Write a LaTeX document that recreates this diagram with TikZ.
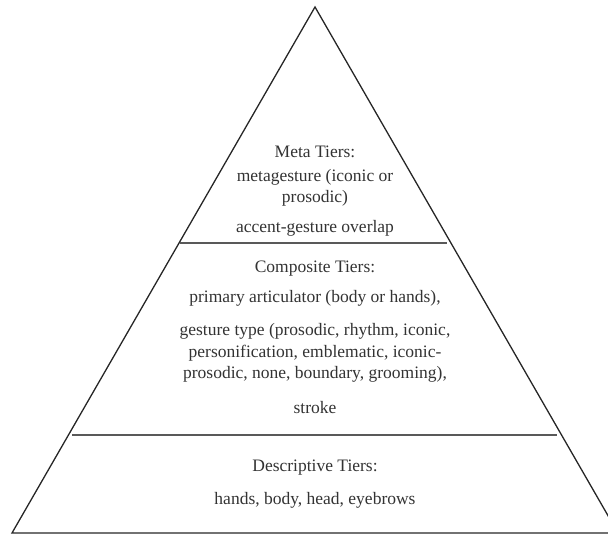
\documentclass[tikz,border=0pt]{standalone}
\usepackage{fontspec}
\setmainfont{Liberation Serif}
\usepackage{tikz}
\usetikzlibrary{positioning}
\usetikzlibrary{calc}
\definecolor{rulegray}{rgb}{0.35,0.35,0.35}

\begin{document}
\begin{tikzpicture}[
            x = 1pt, y = -1pt, % picture measured in points, y downwards
            edge line/.style = {draw = black!85, line width = 1.3pt},
            tier line/.style = {draw = rulegray, line width = 1.8pt},
            semithick
        ]

        \tikzstyle{tier}=[
            align = center,
            inner sep = 0pt,
            font = \fontsize{17.5}{21.5}\selectfont,
            text = black!80
        ]

        \clip (0,0) rectangle (608,535);

	% outline of the pyramid
        \coordinate (apex) at (315,7);
        \coordinate (BL) at (12,533);
        \coordinate (BR) at (618,533);
        \draw[edge line] (apex) -- (BL) -- (BR) -- cycle;

        % dividing lines
        \coordinate (M1) at (180,243);
        \coordinate (M2) at (447,243);
        \coordinate (C1) at (72,435);
        \coordinate (C2) at (557,435);
        \draw[tier line] (M1) -- (M2);
        \draw[tier line] (C1) -- (C2);

	% meta level
        \node[tier] (Meta) at (315,152) {Meta Tiers:};
        \node[tier] (MetaG) at (315,188) {metagesture (iconic or\\prosodic)};
        \node[tier] (Acc) at (315,228) {accent-gesture overlap};

        % composite level
        \node[tier] (Comp) at (315,269) {Composite Tiers:};
        \node[tier] (Prim) at (315,298) {primary articulator (body or hands),};
        \node[tier] (GType) at (315,353) {gesture type (prosodic, rhythm, iconic,\\personification, emblematic, iconic-\\prosodic, none, boundary, grooming),};
        \node[tier] (Stroke) at (315,408) {stroke};

        % descriptive level
        \node[tier] (Desc) at (315,468) {Descriptive Tiers:};
        \node[tier] (Hands) at (315,500) {hands, body, head, eyebrows};

  \end{tikzpicture}
\end{document}
